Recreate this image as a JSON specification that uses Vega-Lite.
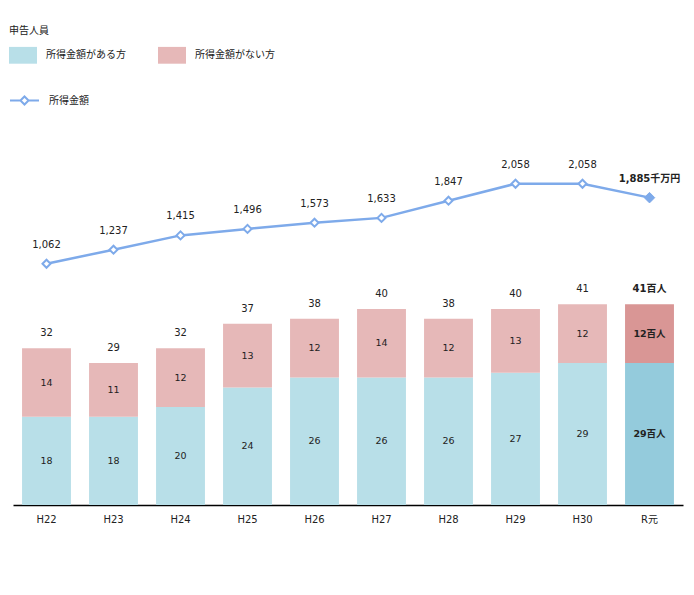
{
  "$schema": "https://vega.github.io/schema/vega-lite/v6.json",
  "width": 670,
  "height": 365,
  "autosize": {"type": "none"},
  "padding": {"left": 13, "top": 140, "right": 11, "bottom": 90},
  "background": "white",
  "config": {
    "view": {"stroke": null},
    "font": "DejaVu Sans, Noto Sans CJK JP",
    "text": {"color": "#222222"}
  },
  "datasets": {
    "bars": [
      {"year": "H22", "type": "所得金額がある方", "count": 18, "ord": 1},
      {"year": "H22", "type": "所得金額がない方", "count": 14, "ord": 2},
      {"year": "H23", "type": "所得金額がある方", "count": 18, "ord": 1},
      {"year": "H23", "type": "所得金額がない方", "count": 11, "ord": 2},
      {"year": "H24", "type": "所得金額がある方", "count": 20, "ord": 1},
      {"year": "H24", "type": "所得金額がない方", "count": 12, "ord": 2},
      {"year": "H25", "type": "所得金額がある方", "count": 24, "ord": 1},
      {"year": "H25", "type": "所得金額がない方", "count": 13, "ord": 2},
      {"year": "H26", "type": "所得金額がある方", "count": 26, "ord": 1},
      {"year": "H26", "type": "所得金額がない方", "count": 12, "ord": 2},
      {"year": "H27", "type": "所得金額がある方", "count": 26, "ord": 1},
      {"year": "H27", "type": "所得金額がない方", "count": 14, "ord": 2},
      {"year": "H28", "type": "所得金額がある方", "count": 26, "ord": 1},
      {"year": "H28", "type": "所得金額がない方", "count": 12, "ord": 2},
      {"year": "H29", "type": "所得金額がある方", "count": 27, "ord": 1},
      {"year": "H29", "type": "所得金額がない方", "count": 13, "ord": 2},
      {"year": "H30", "type": "所得金額がある方", "count": 29, "ord": 1},
      {"year": "H30", "type": "所得金額がない方", "count": 12, "ord": 2},
      {"year": "R元", "type": "所得金額がある方", "count": 29, "ord": 1},
      {"year": "R元", "type": "所得金額がない方", "count": 12, "ord": 2}
    ],
    "summary": [
      {"year": "H22", "total": 32, "income": 1062, "series": "所得金額"},
      {"year": "H23", "total": 29, "income": 1237, "series": "所得金額"},
      {"year": "H24", "total": 32, "income": 1415, "series": "所得金額"},
      {"year": "H25", "total": 37, "income": 1496, "series": "所得金額"},
      {"year": "H26", "total": 38, "income": 1573, "series": "所得金額"},
      {"year": "H27", "total": 40, "income": 1633, "series": "所得金額"},
      {"year": "H28", "total": 38, "income": 1847, "series": "所得金額"},
      {"year": "H29", "total": 40, "income": 2058, "series": "所得金額"},
      {"year": "H30", "total": 41, "income": 2058, "series": "所得金額"},
      {"year": "R元", "total": 41, "income": 1885, "series": "所得金額"}
    ]
  },
  "resolve": {"scale": {"y": "independent"}},
  "layer": [
    {
      "layer": [
        {
          "data": {"name": "bars"},
          "transform": [
            {"stack": "count", "groupby": ["year"], "sort": [{"field": "ord"}], "as": ["y0", "y1"]}
          ],
          "mark": {"type": "bar"},
          "encoding": {
            "x": {
              "field": "year", "type": "nominal",
              "scale": {"domain": ["H22","H23","H24","H25","H26","H27","H28","H29","H30","R元"], "paddingInner": 0.27, "paddingOuter": 0.135},
              "axis": {"title": null, "labelAngle": 0, "ticks": false, "domainColor": "#000000", "domainWidth": 1.5, "labelFontSize": 10, "labelPadding": 9, "labelColor": "#222222", "grid": false}
            },
            "y": {"field": "y1", "type": "quantitative", "scale": {"domain": [0, 74.5], "nice": false, "zero": true}, "axis": null},
            "y2": {"field": "y0"},
            "color": {
              "field": "type", "type": "nominal",
              "scale": {"domain": ["所得金額がある方", "所得金額がない方"], "range": ["#b8dfe8", "#e6b8b8"]},
              "condition": [
                {"test": "datum.year === 'R元' && datum.type === '所得金額がある方'", "value": "#94cbdc"},
                {"test": "datum.year === 'R元'", "value": "#d99695"}
              ],
              "legend": {
                "orient": "none", "legendX": -4, "legendY": -114,
                "direction": "horizontal", "columns": 2,
                "title": "申告人員", "titleFontSize": 10, "titleFontWeight": "normal", "titleColor": "#222222",
                "titlePadding": 5, "titleFont": "Noto Sans CJK JP",
                "symbolType": "M-1,-0.6H1V0.6H-1Z", "symbolSize": 784, "symbolStrokeWidth": 0,
                "labelFont": "Noto Sans CJK JP", "labelFontSize": 10, "labelColor": "#222222", "labelOffset": 9,
                "columnPadding": 32, "padding": 0, "labelLimit": 200
              }
            }
          }
        },
        {
          "data": {"name": "bars"},
          "transform": [
            {"stack": "count", "groupby": ["year"], "sort": [{"field": "ord"}], "as": ["y0", "y1"]},
            {"calculate": "(datum.y0 + datum.y1) / 2", "as": "mid"},
            {"filter": "datum.year !== 'R元'"}
          ],
          "mark": {"type": "text", "fontSize": 9.5, "baseline": "middle"},
          "encoding": {
            "x": {"field": "year", "type": "nominal"},
            "y": {"field": "mid", "type": "quantitative", "scale": {"domain": [0, 74.5], "nice": false}},
            "text": {"field": "count", "type": "quantitative"}
          }
        },
        {
          "data": {"name": "bars"},
          "transform": [
            {"stack": "count", "groupby": ["year"], "sort": [{"field": "ord"}], "as": ["y0", "y1"]},
            {"calculate": "(datum.y0 + datum.y1) / 2", "as": "mid"},
            {"filter": "datum.year === 'R元'"},
            {"calculate": "datum.count + '百人'", "as": "lab"}
          ],
          "mark": {"type": "text", "fontSize": 9.5, "fontWeight": "bold", "baseline": "middle"},
          "encoding": {
            "x": {"field": "year", "type": "nominal"},
            "y": {"field": "mid", "type": "quantitative", "scale": {"domain": [0, 74.5], "nice": false}},
            "text": {"field": "lab", "type": "nominal"}
          }
        },
        {
          "data": {"name": "summary"},
          "transform": [{"filter": "datum.year !== 'R元'"}],
          "mark": {"type": "text", "fontSize": 10, "baseline": "middle", "dy": -15},
          "encoding": {
            "x": {"field": "year", "type": "nominal"},
            "y": {"field": "total", "type": "quantitative", "scale": {"domain": [0, 74.5], "nice": false}},
            "text": {"field": "total", "type": "quantitative"}
          }
        },
        {
          "data": {"name": "summary"},
          "transform": [{"filter": "datum.year === 'R元'"}, {"calculate": "datum.total + '百人'", "as": "lab"}],
          "mark": {"type": "text", "fontSize": 10, "fontWeight": "bold", "baseline": "middle", "dy": -15},
          "encoding": {
            "x": {"field": "year", "type": "nominal"},
            "y": {"field": "total", "type": "quantitative", "scale": {"domain": [0, 74.5], "nice": false}},
            "text": {"field": "lab", "type": "nominal"}
          }
        }
      ]
    },
    {
      "data": {"name": "summary"},
      "layer": [
        {
          "mark": {"type": "line", "strokeWidth": 2.5},
          "encoding": {
            "x": {"field": "year", "type": "nominal"},
            "y": {"field": "income", "type": "quantitative", "scale": {"domain": [-1943, 2603], "nice": false, "zero": false}, "axis": null},
            "stroke": {
              "field": "series", "type": "nominal",
              "scale": {"range": ["#7eaaea"]},
              "legend": {
                "orient": "none", "legendX": -4, "legendY": -55,
                "title": null,
                "symbolType": "M-1,0H-0.28M0.28,0H1M-0.28,0L0,-0.28L0.28,0L0,0.28Z",
                "symbolSize": 841, "symbolStrokeWidth": 2, "symbolFillColor": "white",
                "labelFont": "Noto Sans CJK JP", "labelFontSize": 10, "labelColor": "#222222", "labelOffset": 9,
                "padding": 0
              }
            }
          }
        },
        {
          "transform": [{"filter": "datum.year !== 'R元'"}],
          "mark": {"type": "point", "shape": "diamond", "filled": true, "fill": "white", "stroke": "#7eaaea", "strokeWidth": 2, "size": 64, "opacity": 1},
          "encoding": {
            "x": {"field": "year", "type": "nominal"},
            "y": {"field": "income", "type": "quantitative", "scale": {"domain": [-1943, 2603], "nice": false, "zero": false}}
          }
        },
        {
          "transform": [{"filter": "datum.year === 'R元'"}],
          "mark": {"type": "point", "shape": "diamond", "filled": true, "fill": "#7eaaea", "stroke": "#7eaaea", "strokeWidth": 1, "size": 110, "opacity": 1},
          "encoding": {
            "x": {"field": "year", "type": "nominal"},
            "y": {"field": "income", "type": "quantitative", "scale": {"domain": [-1943, 2603], "nice": false, "zero": false}}
          }
        },
        {
          "transform": [{"filter": "datum.year !== 'R元'"}],
          "mark": {"type": "text", "fontSize": 10, "baseline": "middle", "dy": -19},
          "encoding": {
            "x": {"field": "year", "type": "nominal"},
            "y": {"field": "income", "type": "quantitative", "scale": {"domain": [-1943, 2603], "nice": false, "zero": false}},
            "text": {"field": "income", "type": "quantitative", "format": ","}
          }
        },
        {
          "transform": [{"filter": "datum.year === 'R元'"}, {"calculate": "format(datum.income, ',') + '千万円'", "as": "lab"}],
          "mark": {"type": "text", "fontSize": 10, "fontWeight": "bold", "baseline": "middle", "dy": -19},
          "encoding": {
            "x": {"field": "year", "type": "nominal"},
            "y": {"field": "income", "type": "quantitative", "scale": {"domain": [-1943, 2603], "nice": false, "zero": false}},
            "text": {"field": "lab", "type": "nominal"}
          }
        }
      ]
    }
  ]
}
